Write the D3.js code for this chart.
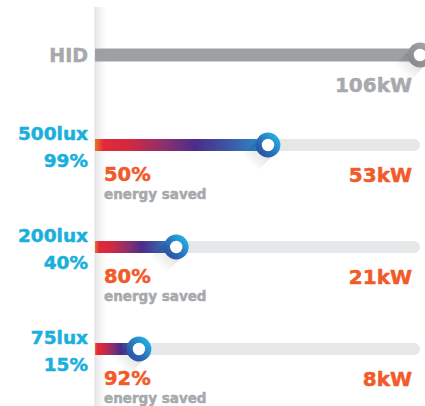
<!DOCTYPE html>
<html><head><meta charset="utf-8">
<script src="https://cdn.jsdelivr.net/npm/d3@7"></script>
<style>
html,body{margin:0;padding:0;background:#fff;}
svg{display:block;font-family:"DejaVu Sans",sans-serif;}
text{paint-order:stroke;stroke-width:0.5px;stroke-linejoin:round;}
</style></head>
<body>
<svg id="chart" width="425" height="406"></svg>
<script>
// ---- data ----
const categories = ["HID", "500lux", "200lux", "75lux"];
const coverage   = [null, "99%", "40%", "15%"];
const powerKW    = [106, 53, 21, 8];
const saved      = [null, "50%", "80%", "92%"];
const savedNote  = "energy saved";
const maxKW = 106;

const W = 425, H = 406;
const svg = d3.select("#chart");
const defs = svg.append("defs");

const axisX = 95;
const x = d3.scaleLinear().domain([0, maxKW]).range([116, 420]);
const yLux = d3.scalePoint().domain(categories.slice(1)).range([145, 349]);
const yPos = c => c === "HID" ? 55 : yLux(c);
const barH = 12;

const CYAN = "#1bb0dc", ORANGE = "#f15a29", GRAYT = "#a7a9ac";

// gradients
const g1 = defs.append("linearGradient").attr("id", "barGrad").attr("x1", 0).attr("x2", 1).attr("y1", 0).attr("y2", 0);
[[0, "#e8742a"], [0.05, "#e3283a"], [0.2, "#d2293f"], [0.4, "#8c2f6e"], [0.58, "#4a2d8a"], [0.8, "#3b5da9"], [1, "#2996d3"]]
  .forEach(([o, c]) => g1.append("stop").attr("offset", o).attr("stop-color", c));

const rg = defs.append("linearGradient").attr("id", "ringGrad").attr("x1", 0).attr("y1", 1).attr("x2", 1).attr("y2", 0);
[[0, "#2c4f9f"], [0.45, "#2a74bb"], [1, "#22b3e4"]].forEach(([o, c]) => rg.append("stop").attr("offset", o).attr("stop-color", c));
const rg2 = defs.append("linearGradient").attr("id", "ringGray").attr("x1", 0).attr("y1", 1).attr("x2", 1).attr("y2", 0);
[[0, "#88898c"], [1, "#a3a5a8"]].forEach(([o, c]) => rg2.append("stop").attr("offset", o).attr("stop-color", c));

const sg = defs.append("linearGradient").attr("id", "shadowGrad").attr("x1", 0).attr("x2", 1).attr("y1", 0).attr("y2", 0);
sg.append("stop").attr("offset", 0).attr("stop-color", "#000").attr("stop-opacity", 0.16);
sg.append("stop").attr("offset", 1).attr("stop-color", "#000").attr("stop-opacity", 0);

const ag = defs.append("linearGradient").attr("id", "axisGrad").attr("x1", 0).attr("x2", 1).attr("y1", 0).attr("y2", 0);
ag.append("stop").attr("offset", 0).attr("stop-color", "#000").attr("stop-opacity", 0.09);
ag.append("stop").attr("offset", 1).attr("stop-color", "#000").attr("stop-opacity", 0);

// axis line with soft shadow
svg.append("rect").attr("x", axisX).attr("y", 7).attr("width", 11).attr("height", H - 7).attr("fill", "url(#axisGrad)");
svg.append("line").attr("x1", axisX).attr("x2", axisX).attr("y1", 7).attr("y2", H).attr("stroke", "#e2e3e4").attr("stroke-width", 1.2);

const rows = categories.map((c, i) => ({ c, cov: coverage[i], kw: powerKW[i], saved: saved[i], hid: c === "HID" }));

function label(g, xx, yy, size, color, txt, anchor) {
  g.append("text").attr("x", xx).attr("y", yy).attr("text-anchor", anchor || "start")
    .attr("font-size", size).attr("font-weight", "bold").attr("fill", color).attr("stroke", color).text(txt);
}

rows.forEach(d => {
  const cy = yPos(d.c);
  const cx = x(d.kw);
  const g = svg.append("g");
  if (!d.hid) {
    g.append("rect").attr("x", axisX).attr("y", cy - barH / 2).attr("width", x(maxKW) - axisX)
      .attr("height", barH).attr("rx", barH / 2).attr("fill", "#e6e7e8");
    g.append("rect").attr("x", axisX).attr("y", cy - barH / 2).attr("width", barH).attr("height", barH).attr("fill", "#e6e7e8");
    g.append("rect").attr("x", axisX).attr("y", cy - barH / 2).attr("width", cx - axisX)
      .attr("height", barH).attr("fill", "url(#barGrad)");
  } else {
    g.append("rect").attr("x", axisX).attr("y", cy - 6.5).attr("width", cx - axisX)
      .attr("height", 13).attr("fill", "#9d9fa2");
  }
  // shadow
  g.append("rect").attr("x", 0).attr("y", -11).attr("width", 26).attr("height", 22)
    .attr("fill", "url(#shadowGrad)")
    .attr("transform", `translate(${cx},${cy}) rotate(135)`);
  // knob
  g.append("circle").attr("cx", cx).attr("cy", cy).attr("r", 9.3)
    .attr("fill", "#fff").attr("stroke", d.hid ? "url(#ringGray)" : "url(#ringGrad)").attr("stroke-width", 6.2);

  // labels
  if (d.hid) {
    label(g, 88, cy + 7, 19, GRAYT, d.c, "end");
  } else {
    label(g, 88, cy - 5, 18.5, CYAN, d.c, "end");
    label(g, 88, cy + 22, 18.5, CYAN, d.cov, "end");
    label(g, 104, cy + 36, 19.5, ORANGE, d.saved);
    label(g, 104, cy + 54, 13.5, GRAYT, savedNote);
  }
  label(g, 412, cy + 37, 20, d.hid ? GRAYT : ORANGE, d.kw + "kW", "end");
});
</script>
</body></html>
